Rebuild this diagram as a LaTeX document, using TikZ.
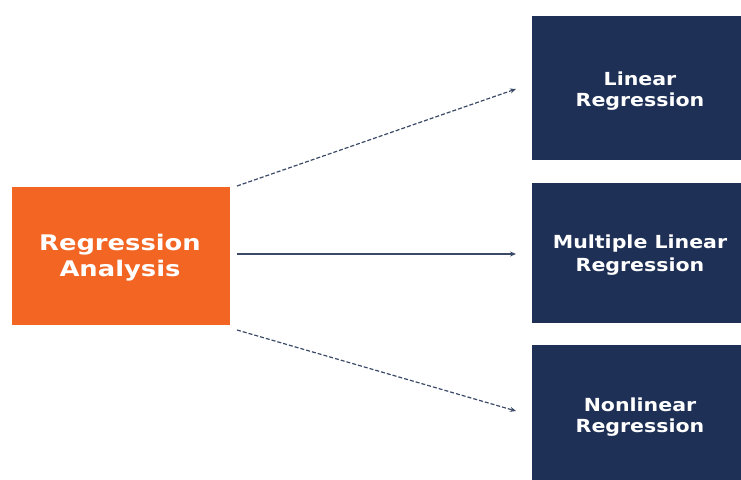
\documentclass[tikz,border=0pt]{standalone}
\usepackage{fontspec}
\setmainfont{DejaVu Sans}
\newfontfamily\rootfont[FakeStretch=1.2]{DejaVu Sans}
\newfontfamily\leaffont[FakeStretch=1.14]{DejaVu Sans}
\usetikzlibrary{arrows.meta}
\definecolor{orangebox}{HTML}{F26522}
\definecolor{navybox}{HTML}{1F3056}
\definecolor{linkgray}{HTML}{3A4A66}
\tikzset{
  rootbox/.style={fill=orangebox, draw=none, minimum width=218pt, minimum height=138pt, inner sep=0pt,
    text=white, font=\rootfont\bfseries\fontsize{21.5}{26}\selectfont, align=center},
  leafbox/.style={fill=navybox, draw=none, minimum width=216pt, inner sep=0pt,
    text=white, font=\leaffont\bfseries\fontsize{18}{23}\selectfont, align=center},
  link/.style={draw=linkgray, line width=1.2pt, -{Stealth[length=6pt,width=5pt]}},
  dlink/.style={link, dash pattern=on 4pt off 2pt}
}
\begin{document}
\begin{tikzpicture}[x=1pt,y=-1pt]
\useasboundingbox (0,0) rectangle (741,479);
\begin{scope}
\clip (0,0) rectangle (741,479);
\node[rootbox] (root) at (121,256) {};
\node[font=\rootfont\bfseries\fontsize{21.5}{26}\selectfont, text=white, align=center] (roottext) at (120,258) {Regression\\Analysis};
\node[leafbox, minimum height=144pt] (lin) at (640,88) {};
\node[leafbox, minimum height=140pt] (mul) at (640,253) {};
\node[leafbox, minimum height=142pt] (non) at (640,416) {};
\node[leafbox, fill=none, font=\leaffont\bfseries\fontsize{18}{21}\selectfont] (lint) at (640,91) {Linear\\Regression};
\node[leafbox, fill=none] (mult) at (640,255) {Multiple Linear\\Regression};
\node[leafbox, fill=none, font=\leaffont\bfseries\fontsize{18}{21}\selectfont] (nont) at (640,417) {Nonlinear\\Regression};
\coordinate (a1) at (237,186);
\coordinate (a2) at (237,254);
\coordinate (a3) at (237,330);
\coordinate (b1) at (516,89);
\coordinate (b2) at (516,254);
\coordinate (b3) at (516,411);
\draw[dlink] (a1) -- (b1);
\draw[link] (a2) -- (b2);
\draw[dlink] (a3) -- (b3);
\end{scope}
\end{tikzpicture}
\end{document}
